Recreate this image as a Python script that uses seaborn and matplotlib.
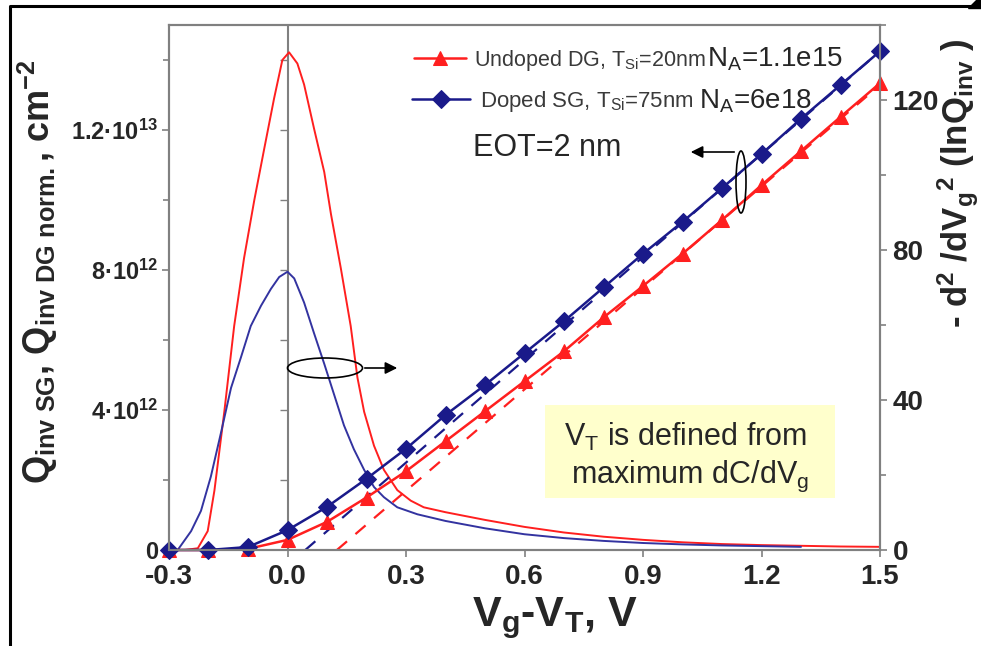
import numpy as np
import pandas as pd
import matplotlib
matplotlib.use("Agg")
import matplotlib.pyplot as plt
from matplotlib.patches import Ellipse, Rectangle, FancyArrowPatch, Polygon
from matplotlib.lines import Line2D
import seaborn as sns

# ---- data -------------------------------------------------------------
# gate overdrive points of the marked curves, V
vg_marked = [-0.3, -0.2, -0.1, 0.0, 0.1, 0.2, 0.3, 0.4, 0.5, 0.6,
             0.7, 0.8, 0.9, 1.0, 1.1, 1.2, 1.3, 1.4, 1.5]
# -d2/dVg2 (ln Qinv), right axis
d2_undoped_dg = [0.0, 0.0, 0.3, 2.7, 7.5, 14.0, 21.0, 29.0, 37.0, 45.0,
                 53.0, 62.0, 70.4, 79.0, 88.0, 97.3, 106.4, 115.5, 124.5]
d2_doped_sg = [0.0, 0.0, 0.8, 5.3, 11.5, 19.0, 27.0, 36.0, 44.0, 52.5,
               61.0, 70.0, 79.0, 87.5, 96.5, 105.6, 115.0, 124.0, 133.0]
# linear extrapolations down to the axis
fit_undoped_x = [0.125, 1.5]
fit_undoped_y = [0.0, 124.0]
fit_doped_x = [0.045, 1.5]
fit_doped_y = [0.0, 133.0]

# inversion charge, units of 1e12 cm^-2, left axis
q_dg_x = [-0.30, -0.26, -0.227, -0.202, -0.185, -0.16, -0.135, -0.11, -0.084,
          -0.059, -0.034, -0.013, 0.004, 0.025, 0.042, 0.067, 0.093, 0.11,
          0.135, 0.16, 0.177, 0.194, 0.219, 0.244, 0.278, 0.312, 0.345, 0.4,
          0.45, 0.5, 0.6, 0.7, 0.8, 0.9, 1.0, 1.1, 1.2, 1.3, 1.4, 1.5]
q_dg = [0.0, 0.0, 0.05, 0.54, 1.7, 3.95, 6.4, 8.34, 10.0,
        11.46, 12.9, 14.0, 14.22, 13.9, 13.3, 12.05, 10.8, 9.6,
        8.05, 6.4, 4.93, 3.95, 2.98, 2.29, 1.71, 1.41, 1.22, 1.08,
        0.97, 0.86, 0.66, 0.5, 0.38, 0.29, 0.22, 0.17, 0.14, 0.12, 0.1, 0.09]
q_sg_x = [-0.30, -0.278, -0.244, -0.219, -0.194, -0.168, -0.143, -0.118, -0.093,
          -0.067, -0.042, -0.021, 0.0, 0.017, 0.042, 0.067, 0.093, 0.118,
          0.143, 0.168, 0.194, 0.219, 0.244, 0.278, 0.329, 0.4, 0.5,
          0.6, 0.7, 0.8, 0.9, 1.0, 1.1, 1.2, 1.3]
q_sg = [0.0, 0.0, 0.54, 1.12, 2.1, 3.37, 4.63, 5.5, 6.4,
        6.98, 7.46, 7.8, 7.95, 7.76, 7.07, 6.2, 5.32, 4.44,
        3.56, 2.88, 2.29, 1.8, 1.51, 1.22, 1.02, 0.83, 0.62,
        0.45, 0.34, 0.26, 0.2, 0.16, 0.13, 0.11, 0.09]

x_ticks = [-0.3, 0.0, 0.3, 0.6, 0.9, 1.2, 1.5]
x_tick_labels = ["-0.3", "0.0", "0.3", "0.6", "0.9", "1.2", "1.5"]
q_ticks = [0.0, 4e12, 8e12, 1.2e13]
q_tick_labels = ["0", "4\u00b710$^{\\mathbf{12}}$", "8\u00b710$^{\\mathbf{12}}$",
                 "1.2\u00b710$^{\\mathbf{13}}$"]
q_minor = [2e12, 6e12, 1e13, 1.4e13]
d2_ticks = [0, 40, 80, 120]
d2_minor = [20, 60, 100, 140]

legend_labels = ["Undoped DG, T$_{\\mathrm{Si}}$=20nm", "Doped SG, T$_{\\mathrm{Si}}$=75nm"]
doping_labels = ["N$_{\\mathrm{A}}$=1.1e15", "N$_{\\mathrm{A}}$=6e18"]

# ---- style ------------------------------------------------------------
sns.set_style("ticks")
plt.rcParams["font.family"] = ["Liberation Sans", "DejaVu Sans"]
plt.rcParams["mathtext.fontset"] = "custom"
plt.rcParams["mathtext.rm"] = "Liberation Sans"
plt.rcParams["mathtext.it"] = "Liberation Sans:italic"
plt.rcParams["mathtext.bf"] = "Liberation Sans:bold"
plt.rcParams["mathtext.sf"] = "Liberation Sans"

RED = "#FF1F1F"
NAVY = "#1A1A8A"
QBLUE = "#3333A0"
GRAY = "#808080"

W, H = 981, 646
fig = plt.figure(figsize=(W / 100, H / 100), dpi=100)
fig.patch.set_facecolor("white")


def fx(px):
    return px / W


def fy(py):
    return 1 - py / H


ax = fig.add_axes([fx(169), fy(550), fx(880) - fx(169), fy(25) - fy(550)])
ax2 = ax.twinx()

# inversion charge curves (left axis)
sns.lineplot(x=q_dg_x, y=np.array(q_dg) * 1e12, ax=ax, color=RED, lw=1.4,
             sort=False, estimator=None)
sns.lineplot(x=q_sg_x, y=np.array(q_sg) * 1e12, ax=ax, color=QBLUE, lw=1.4,
             sort=False, estimator=None)
ax.axvline(0.0, color=GRAY, lw=1.5, zorder=0)
ax.scatter(np.zeros(len(q_minor) + 3), q_minor + q_ticks[1:], marker=0, s=30,
           color=GRAY, lw=1.0, zorder=1)

# extrapolated lines (right axis)
sns.lineplot(x=fit_undoped_x, y=fit_undoped_y, ax=ax2, color=RED, lw=1.6,
             linestyle=(0, (6, 5)), sort=False, estimator=None)
sns.lineplot(x=fit_doped_x, y=fit_doped_y, ax=ax2, color=NAVY, lw=1.6,
             linestyle=(0, (6, 5)), sort=False, estimator=None)
# second derivative curves (right axis)
sns.lineplot(x=vg_marked, y=d2_undoped_dg, ax=ax2, color=RED, lw=1.8,
             marker="^", markersize=10, markeredgecolor=RED, label=legend_labels[0],
             sort=False, estimator=None, clip_on=False)
sns.lineplot(x=vg_marked, y=d2_doped_sg, ax=ax2, color=NAVY, lw=1.8,
             marker="D", markersize=9, markeredgecolor=NAVY, label=legend_labels[1],
             sort=False, estimator=None, clip_on=False)

ax.set_xlim(-0.3, 1.5)
ax.set_ylim(0, 1.5e13)
ax2.set_ylim(0, 140)

ax.set_xticks(x_ticks)
ax.set_xticklabels(x_tick_labels)
ax.set_yticks(q_ticks)
ax.set_yticklabels(q_tick_labels)
ax.set_yticks(q_minor, minor=True)
ax2.set_yticks(d2_ticks)
ax2.set_yticklabels([str(t) for t in d2_ticks])
ax2.set_yticks(d2_minor, minor=True)

for a in (ax, ax2):
    for s in a.spines.values():
        s.set_color(GRAY)
        s.set_linewidth(1.5)
        s.set_visible(True)
    a.tick_params(which="both", color=GRAY, width=1.2)
    a.tick_params(which="major", length=5, labelsize=20, pad=4)
    a.tick_params(which="minor", length=4)
ax.tick_params(axis="y", which="major", labelsize=17, pad=3)
ax.tick_params(axis="x", which="major", pad=5)
for a in (ax, ax2):
    for lab in a.get_xticklabels() + a.get_yticklabels():
        lab.set_fontweight("bold")
ax.set_xlabel("")
ax.set_ylabel("")
ax2.set_ylabel("")
ax.grid(False)
ax2.grid(False)

# legend, one entry per row
h, l = ax2.get_legend_handles_labels()
leg1 = ax2.legend(h[:1], l[:1], loc="upper left", bbox_to_anchor=(fx(414), fy(48)),
                  bbox_transform=fig.transFigure, frameon=False, fontsize=15.5,
                  handlelength=2.4, handletextpad=0.4, borderpad=0, borderaxespad=0)
ax2.add_artist(leg1)
leg2 = ax2.legend(h[1:], l[1:], loc="upper left", bbox_to_anchor=(fx(412), fy(89)),
                  bbox_transform=fig.transFigure, frameon=False, fontsize=16,
                  handlelength=2.6, handletextpad=0.45, borderpad=0, borderaxespad=0)
for lg in (leg1, leg2):
    for t in lg.get_texts():
        t.set_color("#3a3a3a")
fig.text(fx(707), fy(59), doping_labels[0], fontsize=20, va="center", ha="left")
fig.text(fx(699), fy(101), doping_labels[1], fontsize=20, va="center", ha="left")

fig.text(fx(547), fy(148), "EOT=2 nm", fontsize=22, va="center", ha="center")

# axis titles
fig.text(fx(38), fy(272),
         "$\\mathbf{Q}_{\\mathbf{inv\\ SG}}$, $\\mathbf{Q}_{\\mathbf{inv\\ DG\\ norm.}}$, cm$^{\\mathbf{-2}}$",
         rotation=90, fontsize=26, fontweight="bold", ha="center", va="center")
fig.text(fx(555), fy(618), "V$_{\\mathbf{g}}$-V$_{\\mathbf{T}}$, V", fontsize=31,
         fontweight="bold", ha="center", va="center")
fig.text(fx(958), fy(328),
         "- d$^{\\mathbf{2}}$ /dV$_{\\mathbf{g}}$$^{\\mathbf{2}}$ (lnQ$_{\\mathbf{inv}}$ )",
         rotation=90, fontsize=25, fontweight="bold", ha="center", va="bottom")

# highlighted note
fig.add_artist(Rectangle((fx(545), fy(498)), fx(835) - fx(545), fy(405) - fy(498),
                         transform=fig.transFigure, facecolor="#FFFFCC",
                         edgecolor="none", zorder=5))
fig.text(fx(686), fy(437), "V$_{\\mathrm{T}}$ is defined from", fontsize=22,
         ha="center", va="center", zorder=6)
fig.text(fx(690), fy(476), "maximum dC/dV$_{\\mathrm{g}}$", fontsize=22,
         ha="center", va="center", zorder=6)

# ellipses with arrows pointing to the relevant axis
fig.add_artist(Ellipse((fx(325), fy(368)), fx(75), 20 / H, transform=fig.transFigure,
                       facecolor="none", edgecolor="black", lw=1.2, zorder=6))
fig.add_artist(FancyArrowPatch((fx(362), fy(368)), (fx(400), fy(368)),
                               transform=fig.transFigure, arrowstyle="-|>",
                               mutation_scale=18, color="black", lw=1.2, zorder=6))
fig.add_artist(Ellipse((fx(741), fy(182)), fx(10), 62 / H, transform=fig.transFigure,
                       facecolor="none", edgecolor="black", lw=1.2, zorder=6))
fig.add_artist(FancyArrowPatch((fx(737), fy(152)), (fx(688), fy(152)),
                               transform=fig.transFigure, arrowstyle="-|>",
                               mutation_scale=18, color="black", lw=1.2, zorder=6))

# slide frame
fig.add_artist(Line2D([fx(10), fx(10), fx(972)], [0, fy(6), fy(6)],
                      transform=fig.transFigure, color="black", lw=2.2))
fig.add_artist(Polygon([(fx(968), fy(7.5)), (fx(981), fy(7.5)), (fx(981), 1), (fx(976), 1)],
                       closed=True, transform=fig.transFigure, color="black"))

fig.savefig("out.png", dpi=100)
